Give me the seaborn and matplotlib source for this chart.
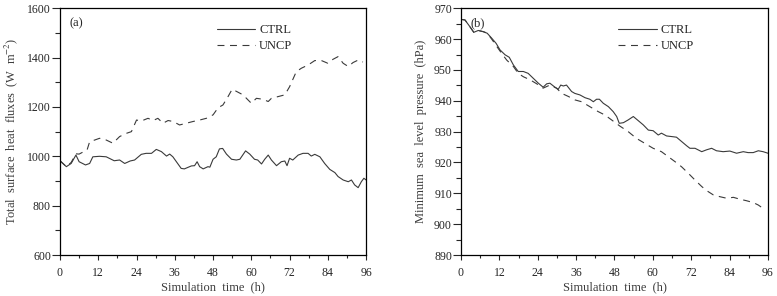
import numpy as np
import pandas as pd
import matplotlib
matplotlib.use("Agg")
import matplotlib.pyplot as plt
from matplotlib.ticker import MultipleLocator
import seaborn as sns

# ---- data ----
flux_ctrl_t = [0, 2, 3.5, 5, 6, 8, 9.3, 10.3, 12.4, 14.5, 17, 18.7, 20.3, 22, 23.4, 25.5, 27, 28.7,
               30.2, 31.8, 33.4, 34.4, 35.4, 38, 39, 41.2, 42.2, 43, 43.8, 44.9, 46.4, 47, 48, 49,
               50, 51, 52.2, 53.8, 55.3, 56.4, 58.2, 59.5, 61, 62, 63.2, 64.2, 65.3, 66.3, 67.9,
               69.4, 70.5, 71.2, 72, 73, 74.7, 76.2, 77.8, 78.8, 79.9, 81.5, 83, 84.6, 86.2, 87.2,
               88.8, 90.4, 91.4, 92.4, 93.5, 94.5, 95.3, 96]
flux_ctrl = [982, 958, 971, 1005, 978, 965, 971, 998, 1000, 998, 982, 985, 971, 981, 985, 1008, 1012,
             1012, 1028, 1019, 1001, 1009, 998, 951, 949, 961, 962, 978, 958, 949, 958, 956, 988,
             998, 1030, 1032, 1009, 988, 985, 988, 1022, 1009, 988, 985, 969, 988, 1005, 985, 962,
             978, 981, 962, 992, 985, 1005, 1012, 1012, 1001, 1008, 998, 971, 947, 934, 918,
             904, 897, 904, 884, 873, 897, 911, 904]
flux_uncp_t = [0, 2, 3.5, 5, 6, 8.5, 9.3, 10.9, 12.4, 14.5, 16.6, 18.7, 20.8, 22.4, 24, 25.5, 27.6,
               29.2, 30.7, 32.3, 33.9, 35.5, 37.5, 39.6, 41.7, 43.8, 45.9, 48, 49.6, 51.1, 52.7,
               54, 55.5, 57.4, 59, 60, 61.6, 63.7, 65.3, 66.3, 68.4, 70.5, 72, 74.1, 75.7, 77.8,
               79.9, 82, 84, 85.6, 87.2, 88.8, 90.4, 91.9, 93.5, 95]
flux_uncp = [982, 958, 975, 1010, 1009, 1026, 1059, 1066, 1073, 1066, 1053, 1080, 1093, 1100, 1147,
             1143, 1154, 1145, 1154, 1134, 1145, 1141, 1127, 1134, 1141, 1147, 1154, 1168, 1197,
             1208, 1242, 1272, 1262, 1249, 1228, 1215, 1235, 1231, 1222, 1235, 1242, 1249, 1282,
             1343, 1357, 1370, 1388, 1388, 1377, 1393, 1404, 1377, 1364, 1380, 1390, 1382]

slp_ctrl_t = [0, 1.25, 2.8, 4, 5.4, 7, 8.2, 9.6, 11, 12.2, 13.8, 15.1, 16.4, 17.9, 19.5, 21, 22.6,
              24.2, 25.7, 26.8, 27.8, 29.4, 30.4, 31.2, 32, 33, 34.6, 35.6, 37.2, 38.8, 40.3, 41.4,
              42.4, 43.3, 44.5, 46.1, 47.6, 48.7, 49.5, 50.8, 52.3, 53.9, 55.4, 57, 58.6, 60.1,
              61.7, 62.7, 64.3, 65.9, 67.4, 69, 70.6, 71.6, 73.2, 75.3, 76.8, 78.4, 79.9, 82,
              84.1, 86.2, 88.3, 89.8, 91.4, 93, 94.5, 96]
slp_ctrl = [966.4, 966.2, 964.0, 962.2, 962.8, 962.4, 961.9, 960.3, 958.6, 956.5, 954.9, 954.1,
            951.6, 949.5, 949.5, 948.9, 947.3, 945.7, 944.4, 945.5, 945.7, 944.4, 943.7, 945.1,
            944.8, 945.1, 943.0, 942.4, 941.9, 941.0, 940.5, 939.7, 940.5, 940.5, 939.2, 938.1,
            936.5, 934.9, 932.7, 932.9, 933.8, 934.9, 933.6, 932.2, 930.5, 930.3, 928.9, 929.5,
            928.6, 928.4, 928.2, 926.8, 925.4, 924.6, 924.6, 923.5, 924.1, 924.6, 923.8, 923.5,
            923.7, 923.0, 923.5, 923.2, 923.2, 923.8, 923.5, 923.0]
slp_uncp_t = [0, 1.25, 2.8, 4, 5.4, 7, 8.2, 9.6, 11.2, 12.7, 14.3, 16.4, 17.9, 19.5, 21.6, 23.7,
              25.7, 27.8, 29.9, 31.5, 33.6, 35.6, 37.7, 40.3, 42.9, 45, 47.1, 49.7, 52.3, 54.9,
              57.5, 60.1, 62.7, 64.8, 66.9, 69, 71.1, 73.2, 75.3, 76.8, 78.9, 81, 83.1, 85.2,
              87.2, 89.3, 91.4, 93, 94.5]
slp_uncp = [966.4, 966.2, 964.0, 962.2, 962.8, 962.4, 961.9, 960.0, 957.6, 955.4, 953.2, 951.1,
            948.9, 947.8, 946.8, 945.5, 944.1, 945.1, 944.1, 942.4, 941.4, 940.3, 939.7, 938.1,
            936.5, 935.4, 933.8, 931.8, 930.0, 927.8, 926.2, 924.6, 923.5, 921.9, 920.3, 918.6,
            916.5, 914.3, 912.2, 910.9, 909.5, 908.9, 908.4, 908.7, 908.1, 907.6, 907.0, 906.2,
            905.1]

xticks = [0, 12, 24, 36, 48, 60, 72, 84, 96]
series_names = ["CTRL", "UNCP"]

# ---- style ----
sns.set_theme(style="ticks")
plt.rcParams["font.family"] = ["Liberation Serif", "DejaVu Serif"]
plt.rcParams["mathtext.fontset"] = "stix"
plt.rcParams["lines.scale_dashes"] = False

LC = "#3a3a3a"
TC = "#262626"
LABC = "#3c3c3c"
FS_TICK = 8.5
FS_LAB = 9
FS_LEG = 9

fig = plt.figure(figsize=(7.77, 2.96), dpi=100)
ax1 = fig.add_axes([0.0772, 0.1385, 0.394, 0.8336])
ax2 = fig.add_axes([0.5933, 0.1385, 0.395, 0.8336])


def make_df(t1, v1, t2, v2):
    return pd.concat([
        pd.DataFrame({"t": t1, "v": v1, "run": series_names[0]}),
        pd.DataFrame({"t": t2, "v": v2, "run": series_names[1]}),
    ], ignore_index=True)


panels = [
    (ax1, make_df(flux_ctrl_t, flux_ctrl, flux_uncp_t, flux_uncp), (600, 1600), 200, 100,
     r"Total  surface  heat  fluxes  (W  m$^{-2}$)", "(a)"),
    (ax2, make_df(slp_ctrl_t, slp_ctrl, slp_uncp_t, slp_uncp), (890, 970), 10, 5,
     "Minimum  sea  level  pressure  (hPa)", "(b)"),
]

for ax, df, ylim, ymaj, ymin, ylabel, tag in panels:
    sns.lineplot(data=df, x="t", y="v", style="run", ax=ax, color=LC, lw=0.8,
                 dashes={"CTRL": "", "UNCP": (5.0, 4.0)}, estimator=None, sort=False)
    ax.set_xlim(0, 96)
    ax.set_ylim(*ylim)
    ax.set_xticks(xticks)
    ax.xaxis.set_minor_locator(MultipleLocator(6))
    ax.yaxis.set_major_locator(MultipleLocator(ymaj))
    ax.yaxis.set_minor_locator(MultipleLocator(ymin))
    ax.tick_params(axis="x", which="major", direction="out", length=3.8, width=0.8,
                   labelsize=FS_TICK, labelcolor=TC, pad=5)
    ax.tick_params(axis="x", which="minor", direction="out", length=2.3, width=0.8)
    ax.tick_params(axis="y", which="major", direction="out", length=5.5, width=0.8,
                   labelsize=FS_TICK, labelcolor=TC, pad=1)
    ax.tick_params(axis="y", which="minor", direction="out", length=3.5, width=0.8)
    for s in ax.spines.values():
        s.set_linewidth(0.9)
        s.set_color("black")
    ax.set_xlabel("Simulation  time  (h)", fontsize=FS_LAB, color=LABC, labelpad=1.5)
    ax.set_ylabel(ylabel, fontsize=FS_LAB, color=LABC, labelpad=5)
    ax.text(0.03, 0.94, tag, transform=ax.transAxes, fontsize=FS_LAB, color=TC, va="center")
    leg = ax.legend(loc="upper left", bbox_to_anchor=(0.495, 0.955), frameon=False,
                    fontsize=FS_LEG, handlelength=3.1, handletextpad=0.3, labelspacing=0.3,
                    borderaxespad=0)
    for txt in leg.get_texts():
        txt.set_color(TC)

fig.savefig("out.png", dpi=100)
